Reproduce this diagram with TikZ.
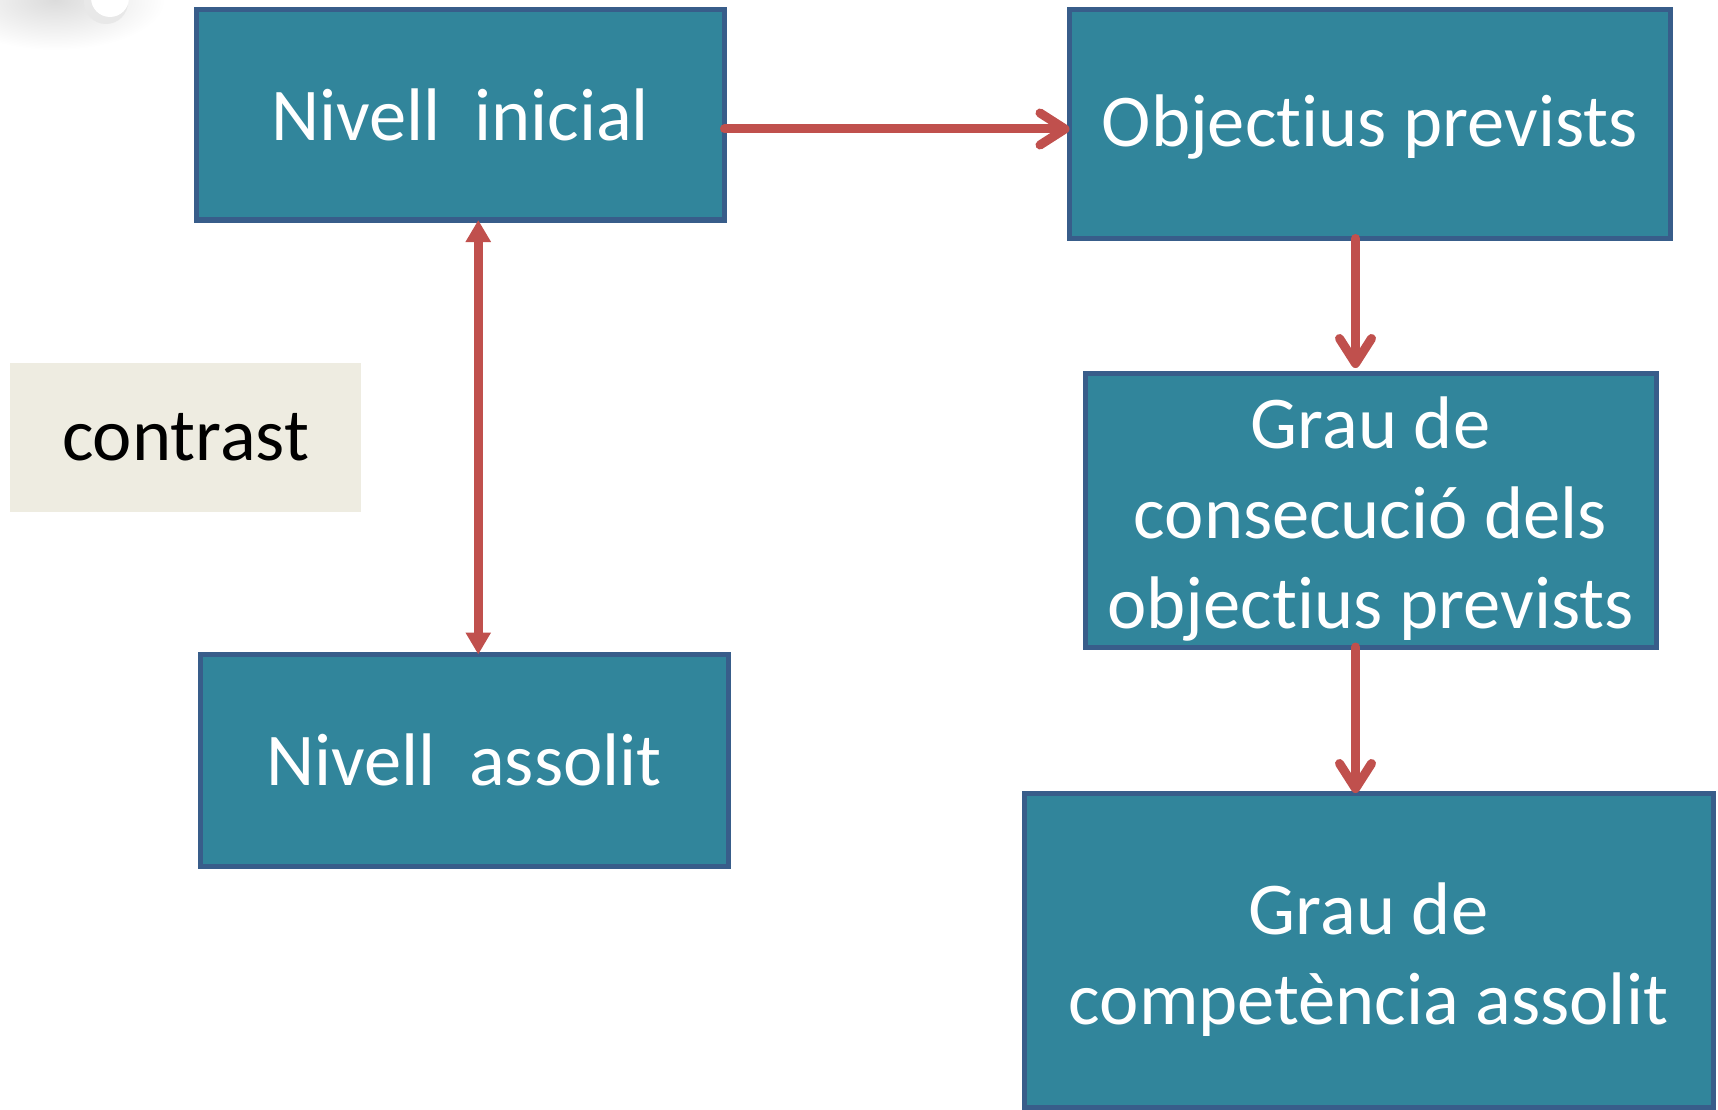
\documentclass[tikz,border=0pt]{standalone}
\usepackage{fontspec}
\setmainfont{Carlito}[Ligatures={NoCommon,NoRequired,NoContextual}]
\usetikzlibrary{arrows.meta,calc}
\definecolor{boxfill}{RGB}{49,133,155}
\definecolor{boxline}{RGB}{56,93,138}
\definecolor{arrowred}{RGB}{192,80,77}
\definecolor{tan}{RGB}{238,236,225}
\tikzset{
  box/.style={draw=boxline, line width=5pt, fill=boxfill, text=white, align=center, inner sep=0pt, outer sep=0pt,
    font=\fontsize{74.5}{90}\selectfont},
  flow/.style={draw=arrowred, line width=9pt, line cap=round,
    -{Straight Barb[length=25pt,width=32pt,line width=9pt,round]}},
  dbl/.style={draw=arrowred, line width=8.5pt,
    {Triangle[length=22pt,width=24pt]}-{Triangle[length=22pt,width=24pt]}},
}
\newcommand{\tallstrut}{\rule{0pt}{70pt}}
\begin{document}
\begin{tikzpicture}[x=1pt,y=-1pt]
\useasboundingbox (0,0) rectangle (1718,1110);
\fill[white] (0,0) rectangle (1718,1110);
% decorative corner
\begin{scope}
  \clip (0,0) rectangle (220,90);
  \shade[inner color=gray!28, outer color=white] (55,0) ellipse (110pt and 50pt);
  \fill[gray!18] (106,2) circle (22pt);
  \fill[white] (110,-2) circle (19pt);
\end{scope}
% boxes
\node[box, minimum width=528.5pt, minimum height=210pt] (b1) at (460.25,115) {Nivell\ \ inicial};
\node[box, minimum width=600.5pt, minimum height=228.5pt] (b2) at (1369.75,124.25) {\rule{0pt}{58pt}Objectius prevists};
\node[box, minimum width=571pt, minimum height=274pt] (b3) at (1370.5,510) {\tallstrut Grau de\\consecució dels\\objectius prevists};
\node[box, minimum width=689pt, minimum height=314pt] (b4) at (1368.5,950) {\tallstrut Grau de\\competència assolit};
\node[box, minimum width=528pt, minimum height=211.5pt] (b5) at (464,760.25) {Nivell\ \ assolit};
\node[fill=tan, minimum width=351pt, minimum height=149pt, inner sep=0pt, font=\fontsize{74.5}{90}\selectfont] (c) at (185.5,437.5) {contrast};
% connectors
\coordinate (a1s) at ([yshift=-14pt]b1.east);
\draw[flow] (a1s) -- (a1s -| b2.west);
\coordinate (a2s) at ([xshift=18pt]b1.south);
\draw[dbl] (a2s) -- (a2s |- b5.north);
\coordinate (a3s) at ([xshift=-14.25pt]b2.south);
\draw[flow, shorten >=5pt] (a3s) -- (a3s |- b3.north);
\coordinate (a4s) at (a3s |- b3.south);
\draw[flow] (a4s) -- (a4s |- b4.north);
\end{tikzpicture}
\end{document}
